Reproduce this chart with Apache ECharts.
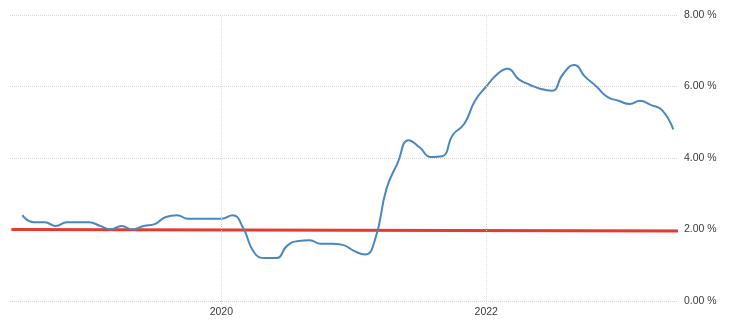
<!DOCTYPE html>
<html>
<head>
<meta charset="utf-8">
<script src="https://cdn.jsdelivr.net/npm/echarts@6/dist/echarts.min.js"></script>
<style>
  html, body { margin: 0; padding: 0; background: #fff; }
  #chart { width: 742px; height: 327px; }
</style>
</head>
<body>
<div id="chart"></div>
<script>
// Monthly inflation rate, July 2018 – June 2023
const months = [
  '2018-07-01','2018-08-01','2018-09-01','2018-10-01','2018-11-01','2018-12-01',
  '2019-01-01','2019-02-01','2019-03-01','2019-04-01','2019-05-01','2019-06-01',
  '2019-07-01','2019-08-01','2019-09-01','2019-10-01','2019-11-01','2019-12-01',
  '2020-01-01','2020-02-01','2020-03-01','2020-04-01','2020-05-01','2020-06-01',
  '2020-07-01','2020-08-01','2020-09-01','2020-10-01','2020-11-01','2020-12-01',
  '2021-01-01','2021-02-01','2021-03-01','2021-04-01','2021-05-01','2021-06-01',
  '2021-07-01','2021-08-01','2021-09-01','2021-10-01','2021-11-01','2021-12-01',
  '2022-01-01','2022-02-01','2022-03-01','2022-04-01','2022-05-01','2022-06-01',
  '2022-07-01','2022-08-01','2022-09-01','2022-10-01','2022-11-01','2022-12-01',
  '2023-01-01','2023-02-01','2023-03-01','2023-04-01','2023-05-01','2023-06-01'
];
const inflation = [
  2.4, 2.2, 2.2, 2.1, 2.2, 2.2,
  2.2, 2.1, 2.0, 2.1, 2.0, 2.1,
  2.15, 2.35, 2.4, 2.3, 2.3, 2.3,
  2.3, 2.4, 2.05, 1.35, 1.2, 1.2,
  1.55, 1.68, 1.7, 1.6, 1.6, 1.57,
  1.4, 1.3, 1.75, 3.15, 3.85, 4.5,
  4.3, 4.03, 4.05, 4.65, 4.95, 5.6,
  6.0, 6.35, 6.5, 6.2, 6.05, 5.93,
  5.88, 6.35, 6.6, 6.27, 6.0, 5.71,
  5.6, 5.51, 5.6, 5.48, 5.34, 4.8
];
// Target rate line
const targetDates = ['2018-06-01', '2023-06-14'];
const targetValues = [2.0, 1.96];
// Axis settings
const xStart = '2018-05-28';
const xEnd = '2023-06-14';
const yearMarks = ['2020-01-01', '2022-01-01'];
const yTicks = [0, 2, 4, 6, 8];

const toTime = s => new Date(s + 'T00:00:00').getTime();

const chart = echarts.init(document.getElementById('chart'));
chart.setOption({
  animation: false,
  backgroundColor: '#ffffff',
  grid: { left: 10, right: 64, top: 15, bottom: 26 },
  xAxis: {
    type: 'value',
    min: toTime(xStart),
    max: toTime(xEnd),
    axisLine: { show: false },
    axisTick: {
      show: true,
      customValues: yearMarks.map(toTime),
      length: 4,
      lineStyle: { color: '#dddddd', type: 'dotted' }
    },
    axisLabel: {
      customValues: yearMarks.map(toTime),
      formatter: v => String(new Date(v).getFullYear()),
      color: '#3a3a3a',
      fontFamily: 'Liberation Sans, Arial, sans-serif',
      fontSize: 10.5,
      margin: 6
    },
    splitLine: { show: false }
  },
  yAxis: {
    type: 'value',
    position: 'right',
    min: yTicks[0],
    max: yTicks[yTicks.length - 1],
    interval: 2,
    axisLine: { show: false },
    axisTick: { show: false },
    axisLabel: {
      formatter: v => v.toFixed(2) + ' %',
      color: '#3a3a3a',
      fontFamily: 'Liberation Sans, Arial, sans-serif',
      fontSize: 10.5,
      margin: 6
    },
    splitLine: { show: true, lineStyle: { color: '#d6d6d6', type: 'dotted', width: 1 } }
  },
  series: [
    {
      name: 'Target',
      type: 'line',
      data: targetDates.map((d, i) => [toTime(d), targetValues[i]]),
      showSymbol: false,
      lineStyle: { color: '#e53a2f', width: 3 },
      z: 2
    },
    {
      name: 'Inflation',
      type: 'line',
      data: months.map((d, i) => [toTime(d), inflation[i]]),
      smooth: 0.5,
      showSymbol: false,
      lineStyle: { color: '#4a87c0', width: 2 },
      z: 3,
      markLine: {
        silent: true,
        symbol: 'none',
        label: { show: false },
        lineStyle: { color: '#dddddd', type: 'dotted', width: 1 },
        data: yearMarks.map(d => ({ xAxis: toTime(d) }))
      }
    }
  ]
});
</script>
</body>
</html>
